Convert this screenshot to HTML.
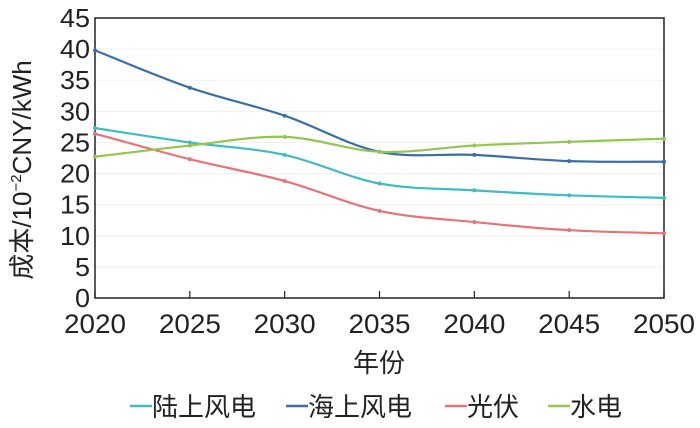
<!DOCTYPE html>
<html><head><meta charset="utf-8"><style>
html,body{margin:0;padding:0;background:#fff;}
svg{display:block;font-family:"Liberation Sans","Noto Sans CJK SC",sans-serif;}
</style></head><body>
<svg id="c" width="700" height="428" viewBox="0 0 700 428"></svg>
<script>
const years=[2020,2025,2030,2035,2040,2045,2050];
const yTicks=[0,5,10,15,20,25,30,35,40,45];
const seriesNames=["陆上风电","海上风电","光伏","水电"];
const onshore=[27.3,25.0,23.0,18.4,17.3,16.5,16.1];
const offshore=[39.8,33.8,29.3,23.5,23.0,22.0,21.9];
const solar=[26.4,22.3,18.8,14.0,12.2,10.9,10.4];
const hydro=[22.7,24.5,25.9,23.5,24.5,25.1,25.6];
const colors=["#3dbdc0","#3b6ea8","#e8737a","#93c64f"];
const svg=document.getElementById('c');
const NS='http://www.w3.org/2000/svg';
const L=95,R=664,T=18,B=298;
const xs=v=>L+(v-2020)/30*(R-L);
const ys=v=>B-v/45*(B-T);
function mk(tag,a,txt){const e=document.createElementNS(NS,tag);for(const k in a)e.setAttribute(k,a[k]);if(txt!=null)e.textContent=txt;svg.appendChild(e);return e;}
yTicks.forEach(t=>{
 if(t>0&&t<45){const g=mk('line',{x1:L,x2:R,y1:ys(t),y2:ys(t),stroke:'#f0f0f0','stroke-width':1});
 
 }
 const l=mk('text',{x:L-5,y:ys(t)+9,'text-anchor':'end','font-size':26,fill:'#222','textLength':t>=10?30:15,'lengthAdjust':'spacingAndGlyphs'},t);
 
 
});
const fr=mk('rect',{x:L,y:T,width:R-L,height:B-T,fill:'none',stroke:'#222','stroke-width':1.5});


years.forEach(y=>{
 const tk=mk('line',{x1:xs(y),x2:xs(y),y1:B,y2:B-7,stroke:'#222','stroke-width':1.2});
 
 
 const l=mk('text',{x:xs(y),y:B+35,'text-anchor':'middle','font-size':27,fill:'#222','textLength':62,'lengthAdjust':'spacingAndGlyphs'},y);
 
 
});
function path(vals){
 const p=vals.map((v,i)=>[xs(years[i]),ys(v)]);
 let d='M'+p[0][0]+','+p[0][1];
 for(let i=0;i<p.length-1;i++){
  const p0=p[Math.max(0,i-1)],p1=p[i],p2=p[i+1],p3=p[Math.min(p.length-1,i+2)];
  const c1=[p1[0]+(p2[0]-p0[0])/6,p1[1]+(p2[1]-p0[1])/6];
  const c2=[p2[0]-(p3[0]-p1[0])/6,p2[1]-(p3[1]-p1[1])/6];
  d+=`C${c1[0]},${c1[1]} ${c2[0]},${c2[1]} ${p2[0]},${p2[1]}`;
 }
 return d;
}
[onshore,offshore,solar,hydro].forEach((s,k)=>{
 const ln=mk('path',{d:path(s),fill:'none',stroke:colors[k],'stroke-width':2.2});
 
 
 s.forEach((v,i)=>{const m=mk('circle',{cx:xs(years[i]),cy:ys(v),r:2,fill:colors[k]});
  
  });
});
const yt=mk('text',{x:0,y:0,transform:'translate(31,170) rotate(-90)','text-anchor':'middle','font-size':26,fill:'#222'});
yt.innerHTML='成本/10<tspan dy="-10" font-size="15">−2</tspan><tspan dy="10">CNY/kWh</tspan>';


const xt=mk('text',{x:379,y:372,'text-anchor':'middle','font-size':26,fill:'#222'},'年份');


const lx=[130,286,445,548];
seriesNames.forEach((n,k)=>{
 const ll=mk('line',{x1:lx[k],x2:lx[k]+22,y1:406,y2:406,stroke:colors[k],'stroke-width':2.5});
 
 
 const lt=mk('text',{x:lx[k]+22,y:416,'font-size':26,fill:'#222'},n);
 
 
});
</script>
</body></html>
